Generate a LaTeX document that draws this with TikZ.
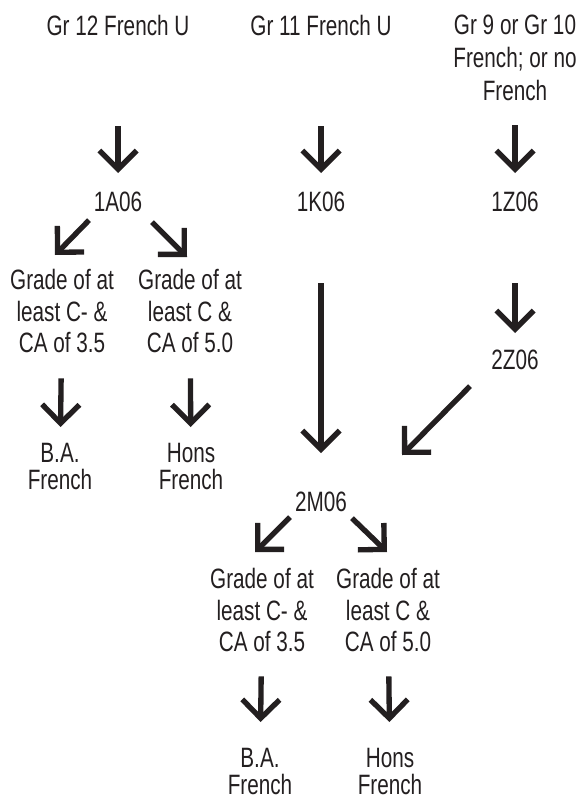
\documentclass[tikz,border=0pt]{standalone}
\usepackage{fontspec}
\setmainfont{Liberation Sans}[FakeStretch=0.74]
\usetikzlibrary{arrows.meta}
\definecolor{ink}{RGB}{35,31,32}
\begin{document}
\begin{tikzpicture}[x=0.75pt, y=-0.75pt,
    txt/.style={text=ink, inner sep=0pt, anchor=north, align=center,
        font=\fontsize{21pt}{23.75pt}\selectfont},
    two/.style={txt, font=\fontsize{21pt}{20pt}\selectfont},
    arr/.style={draw=ink, line width=4pt, -{Straight Barb[length=14pt,width=28pt]}}]
        \useasboundingbox (0,0) rectangle (585,799);
        %Start levels
        \node [txt]
        (g12)at(118,15){Gr 12 French U};
        \node [txt]
        (g11)at(321,15){Gr 11 French U};
        \node [txt, font=\fontsize{21pt}{24.75pt}\selectfont]
        (g9)at(515,15){Gr 9 or Gr 10\\French; or no\\French};
        %First year courses
        \node [txt]
        (c1a)at(118,192){1A06};
        \node [txt]
        (c1k)at(321,192){1K06};
        \node [txt]
        (c1z)at(515,192){1Z06};
        %Second year courses
        \node [txt]
        (c2z)at(515,350){2Z06};
        \node [txt]
        (c2m)at(321,492){2M06};
        %Grades after 1A06
        \node [txt]
        (gl)at(62,269){Grade of at\\least C- \&\\CA of 3.5};
        \node [txt]
        (gr)at(190,269){Grade of at\\least C \&\\CA of 5.0};
        \node [two]
        (ba)at(60,443){B.A.\\French};
        \node [two]
        (hons)at(191,443){Hons\\French};
        %Grades after 2M06
        \node [txt]
        (gl2)at(262,568){Grade of at\\least C- \&\\CA of 3.5};
        \node [txt]
        (gr2)at(388,568){Grade of at\\least C \&\\CA of 5.0};
        \node [two]
        (ba2)at(260,748){B.A.\\French};
        \node [two]
        (hons2)at(390,748){Hons\\French};

        \draw [arr, shorten <=67.5pt, shorten >=14.25pt](g12)--(c1a);
        \draw [arr, shorten <=67.5pt, shorten >=14.25pt](g11)--(c1k);
        \draw [arr, shorten <=18pt, shorten >=14.25pt](g9)--(c1z);
        \draw [arr]([shift={(-29,18)}]c1a.center)--([shift={(-7,-14)}]gl.north);
        \draw [arr]([shift={(34,20)}]c1a.center)--([shift={(-3,-12)}]gr.north);
        \draw [arr, shorten <=18.75pt, shorten >=12pt](gl)--(ba);
        \draw [arr, shorten <=18.75pt, shorten >=12pt](gr)--(hons);
        \draw [arr, shorten <=53.25pt, shorten >=29.25pt](c1k)--(c2m);
        \draw [arr, shorten <=53.25pt, shorten >=12.75pt](c1z)--(c2z);
        \draw [arr]([shift={(-45,26)}]c2z.center)--([shift={(81,-37)}]c2m.north);
        \draw [arr]([shift={(-31,15)}]c2m.center)--([shift={(-7,-16)}]gl2.north);
        \draw [arr]([shift={(31,16)}]c2m.center)--([shift={(-1,-16)}]gr2.north);
        \draw [arr, shorten <=18pt, shorten >=19.5pt](gl2)--(ba2);
        \draw [arr, shorten <=18pt, shorten >=19.5pt](gr2)--(hons2);

    \end{tikzpicture}
\end{document}
